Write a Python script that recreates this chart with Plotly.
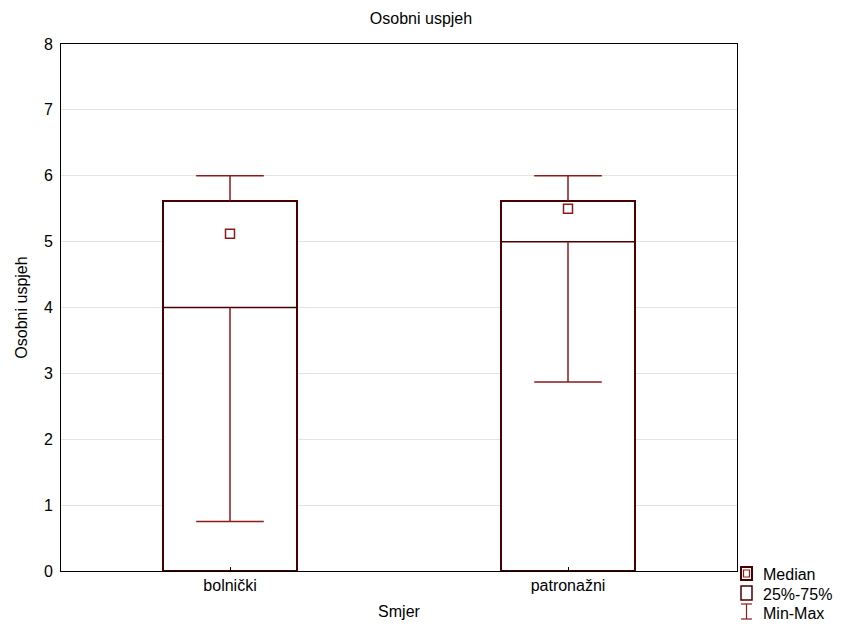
import plotly.graph_objects as go

categories = ["bolnički", "patronažni"]
q1 = [4.0, 5.0]
q3 = [5.62, 5.62]
medians = [5.12, 5.50]
mins = [0.75, 2.87]
maxs = [6.0, 6.0]
y_ticks = [0, 1, 2, 3, 4, 5, 6, 7, 8]

BOX_COL = "#4a0000"
WHISK_COL = "#8b1a1a"
FONT = "Liberation Sans, Arial, sans-serif"
FS = 16

# page body has an 8px margin: work in screenshot pixels and convert
OFF = 8
W, H = 843 - OFF, 631 - OFF
PL, PR, PT, PB = 61, 737, 44, 571          # plot area in screenshot pixels
L, T = PL - OFF, PT - OFF
R, B = W - (PR - OFF), H - (PB - OFF)
PW, PH = PR - PL, PB - PT

box_w = 0.396
cap_hw = 0.1
xi = list(range(len(categories)))

fig = go.Figure()

# boxes (drawn from 0 to Q3 as in the reference)
fig.add_trace(go.Bar(x=xi, y=q3, base=0, width=box_w,
                     marker=dict(color="white", line=dict(color=BOX_COL, width=2)),
                     showlegend=False, hoverinfo="skip"))

# Q1 lines
qx, qy = [], []
for i in xi:
    qx += [i - box_w / 2, i + box_w / 2, None]
    qy += [q1[i], q1[i], None]
fig.add_trace(go.Scatter(x=qx, y=qy, mode="lines",
                         line=dict(color=BOX_COL, width=1.5),
                         showlegend=False, hoverinfo="skip"))

# whiskers
wx, wy = [], []
for i in xi:
    wx += [i, i, None, i, i, None, i - cap_hw, i + cap_hw, None, i - cap_hw, i + cap_hw, None]
    wy += [mins[i], q1[i], None, q3[i], maxs[i], None, mins[i], mins[i], None, maxs[i], maxs[i], None]
fig.add_trace(go.Scatter(x=wx, y=wy, mode="lines",
                         line=dict(color=WHISK_COL, width=1.5),
                         showlegend=False, hoverinfo="skip"))

# medians
fig.add_trace(go.Scatter(x=xi, y=medians, mode="markers",
                         marker=dict(symbol="square", size=9, color="white",
                                     line=dict(color=WHISK_COL, width=1.5)),
                         showlegend=False, hoverinfo="skip"))

# manual legend (paper coords from screenshot pixel positions)
def px(x):
    return (x - PL) / PW

def py(y):
    return (PB - y) / PH

shapes = []
shapes.append(dict(type="rect", xref="paper", yref="paper",
                   x0=px(741), x1=px(752), y0=py(580), y1=py(567),
                   line=dict(color=BOX_COL, width=2), fillcolor="white"))
shapes.append(dict(type="rect", xref="paper", yref="paper",
                   x0=px(743.5), x1=px(749.5), y0=py(577), y1=py(570),
                   line=dict(color=WHISK_COL, width=1.2), fillcolor="white"))
shapes.append(dict(type="rect", xref="paper", yref="paper",
                   x0=px(741), x1=px(752), y0=py(600), y1=py(586),
                   line=dict(color=BOX_COL, width=1.5), fillcolor="white"))
shapes.append(dict(type="line", xref="paper", yref="paper",
                   x0=px(746.5), x1=px(746.5), y0=py(619), y1=py(604),
                   line=dict(color=WHISK_COL, width=1.2)))
shapes.append(dict(type="line", xref="paper", yref="paper",
                   x0=px(741), x1=px(752), y0=py(604), y1=py(604),
                   line=dict(color=WHISK_COL, width=1.2)))
shapes.append(dict(type="line", xref="paper", yref="paper",
                   x0=px(741), x1=px(752), y0=py(619), y1=py(619),
                   line=dict(color=WHISK_COL, width=1.2)))

annotations = []
for label, yc in [("Median", 574), ("25%-75%", 594), ("Min-Max", 613)]:
    annotations.append(dict(text=label, xref="paper", yref="paper",
                            x=px(761), y=py(yc), xanchor="left", yanchor="middle",
                            showarrow=False, font=dict(family=FONT, size=FS, color="black")))

fig.update_layout(
    width=W, height=H,
    margin=dict(l=L, r=R, t=T, b=B),
    paper_bgcolor="white", plot_bgcolor="white",
    font=dict(family=FONT, size=FS, color="black"),
    title=dict(text="Osobni uspjeh", x=(421 - OFF) / W, xanchor="center",
               y=1 - (18 - OFF) / H, yanchor="middle", font=dict(family=FONT, size=FS)),
    showlegend=False,
    shapes=shapes,
    annotations=annotations,
    bargap=0,
)
fig.update_xaxes(
    tickmode="array", tickvals=xi, ticktext=categories,
    range=[-0.5, 1.5], showgrid=False, zeroline=False,
    showline=True, mirror=True, linecolor="black", linewidth=1,
    ticks="inside", ticklen=4, tickcolor="black",
    tickfont=dict(family=FONT, size=FS),
    title=dict(text="Smjer", standoff=12, font=dict(family=FONT, size=FS)),
)
fig.update_yaxes(
    range=[0, 8], tickvals=y_ticks, showgrid=True, gridcolor="#e3e3e3",
    zeroline=False, showline=True, mirror=True, linecolor="black", linewidth=1,
    ticks="", ticklabelstandoff=4,
    tickfont=dict(family=FONT, size=FS),
    title=dict(text="Osobni uspjeh", standoff=12, font=dict(family=FONT, size=FS)),
)

fig.write_html("out.html")
